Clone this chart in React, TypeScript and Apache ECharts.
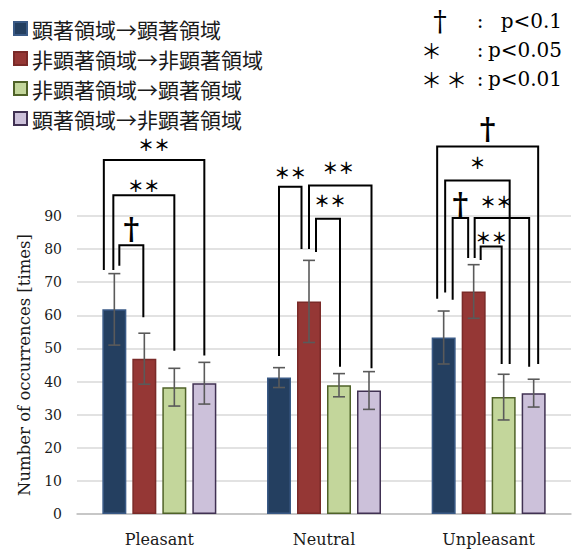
import React, { useEffect, useRef } from "react";
import * as echarts from "echarts";

const categories = ["Pleasant", "Neutral", "Unpleasant"];
const seriesNames = [
  "顕著領域→顕著領域",
  "非顕著領域→非顕著領域",
  "非顕著領域→顕著領域",
  "顕著領域→非顕著領域",
];
const salientToSalient = [61.8, 41.2, 53.3];
const nonToNon = [46.9, 64.2, 67.2];
const nonToSalient = [38.3, 38.9, 35.3];
const salientToNon = [39.5, 37.3, 36.5];
const errSalientToSalient = [10.8, 3.0, 8.0];
const errNonToNon = [7.7, 12.4, 8.1];
const errNonToSalient = [5.7, 3.5, 6.9];
const errSalientToNon = [6.3, 5.7, 4.2];

const yMin = 0;
const yMax = 90;
const yInterval = 10;

// significance brackets: [category, leftSeries, leftBottom, rightSeries, rightBottom, top, labelCenter]
const brackets = [
  [0, 0, 75.0, 1, 59.4, 81.2, 86.3],
  [0, 0, 73.7, 2, 49.3, 96.3, 99.5],
  [0, 0, 73.7, 3, 47.9, 106.9, 111.8],
  [1, 0, 47.7, 1, 80.0, 98.8, 103.4],
  [1, 1, 80.0, 3, 44.0, 99.2, 104.7],
  [1, 1, 79.1, 2, 44.5, 89.2, 94.9],
  [2, 0, 65.0, 3, 45.3, 111.0, 116.5],
  [2, 0, 66.9, 2, 45.3, 100.7, 106.4],
  [2, 0, 64.7, 1, 77.3, 89.4, 93.7],
  [2, 1, 77.3, 3, 44.5, 89.4, 94.4],
  [2, 1, 76.7, 2, 45.3, 80.8, 83.6],
];
const bracketLabels = ["†", "＊＊", "＊＊", "＊＊", "＊＊", "＊＊", "†", "＊", "†", "＊＊", "＊＊"];

// layout only: horizontal leg offsets (px) from bar centres, label x shift
const bracketLegOffsets = [
  [5, -1], [-1, 0], [-10.5, 0],
  [0, -7.5], [0, 2.5], [7, 1],
  [-6.5, 4.5], [1.5, 6], [9, -5.5], [1, -4.5], [7, -2],
];
const bracketLabelShift = [0, 0, 0, 0, -2, 2, 0, 0, 0, -6, 0];

// significance key: symbols (one text per glyph), separator, threshold
const sigSymbols = [["†"], ["＊"], ["＊", "＊"]];
const sigSeparator = ":";
const sigThresholds = ["p<0.1", "p<0.05", "p<0.01"];

const fills = ["#243f60", "#953735", "#c3d69b", "#ccc1da"];
const borders = ["#3a5a86", "#7a2a28", "#4f6228", "#403152"];

const BAR_W = 24;
const PITCH = 30;
const SERIF = "'DejaVu Serif', 'Liberation Serif', serif";
const CJK = "'Noto Sans CJK JP', sans-serif";

export default function App() {
  const ref = useRef<HTMLDivElement>(null);
  useEffect(() => {
    if (!ref.current) return;
    const chart = echarts.init(ref.current, undefined, { renderer: "svg" });
    const values = [salientToSalient, nonToNon, nonToSalient, salientToNon];
    const errs = [errSalientToSalient, errNonToNon, errNonToSalient, errSalientToNon];

    const errData: number[][] = [];
    values.forEach((arr, s) =>
      arr.forEach((v, c) => errData.push([c, s, v - errs[s][c], v + errs[s][c]]))
    );

    const barSeries = values.map((arr, s) => ({
      type: "bar",
      name: seriesNames[s],
      data: arr,
      barWidth: BAR_W,
      barGap: ((PITCH - BAR_W) / BAR_W) * 100 + "%",
      itemStyle: { color: fills[s], borderColor: borders[s], borderWidth: 1.5 },
      z: 2,
    }));

    const xOf = (api: any, c: number, s: number) =>
      api.coord([c, 0])[0] + (s - 1.5) * PITCH;

    const keyGraphics: any[] = [];
    sigThresholds.forEach((th, i) => {
      const y = 21 + i * 29;
      sigSymbols[i].forEach((sym, k) => {
        const isDagger = sym === "†";
        keyGraphics.push({
          type: "text",
          x: isDagger ? 440 : 431.5 + k * 25,
          y,
          style: {
            text: sym,
            fontFamily: isDagger ? SERIF : CJK,
            fontSize: isDagger ? 27 : 21,
            lineHeight: 20,
            fill: "#000",
            align: "center",
            verticalAlign: "middle",
          },
        });
      });
      keyGraphics.push({
        type: "text",
        x: 480,
        y,
        style: { text: sigSeparator, fontFamily: SERIF, fontSize: 20, lineHeight: 20, fill: "#000", align: "center", verticalAlign: "middle" },
      });
      keyGraphics.push({
        type: "text",
        x: 562,
        y,
        style: { text: th, fontFamily: SERIF, fontSize: 20, lineHeight: 20, fill: "#000", align: "right", verticalAlign: "middle" },
      });
    });

    const option: any = {
      animation: false,
      grid: { left: 77, right: 3, top: 216, bottom: 36 },
      legend: {
        data: seriesNames,
        orient: "vertical",
        left: 13,
        top: 18,
        padding: 0,
        itemWidth: 13,
        itemHeight: 13,
        itemGap: 9,
        icon: "rect",
        textStyle: { fontFamily: CJK, fontSize: 21, lineHeight: 21, color: "#1a1a1a", padding: [0, 0, 0, 0] },
      },
      xAxis: {
        type: "category",
        data: categories,
        axisTick: { show: false },
        axisLine: { lineStyle: { color: "#bfbfbf", width: 1.5 } },
        axisLabel: { fontFamily: SERIF, fontSize: 16, color: "#1a1a1a", margin: 17 },
      },
      yAxis: {
        type: "value",
        min: yMin,
        max: yMax,
        interval: yInterval,
        axisLine: { show: false },
        axisTick: { show: false },
        splitLine: { lineStyle: { color: "#d9d9d9", width: 1.5 } },
        axisLabel: { fontFamily: SERIF, fontSize: 14, color: "#1a1a1a", margin: 15 },
        name: "Number of occurrences [times]",
        nameLocation: "middle",
        nameGap: 43,
        nameTextStyle: { fontFamily: SERIF, fontSize: 16.5, color: "#1a1a1a" },
      },
      graphic: keyGraphics,
      series: [
        ...barSeries,
        {
          type: "custom",
          data: errData,
          encode: { x: 0, y: 3 },
          clip: false,
          z: 3,
          silent: true,
          renderItem: (params: any, api: any) => {
            const c = api.value(0);
            const s = api.value(1);
            const x = xOf(api, c, s);
            const yl = api.coord([c, api.value(2)])[1];
            const yh = api.coord([c, api.value(3)])[1];
            const st = { stroke: "#5a5a5a", lineWidth: 1.6 };
            return {
              type: "group",
              children: [
                { type: "line", shape: { x1: x, y1: yl, x2: x, y2: yh }, style: st },
                { type: "line", shape: { x1: x - 6, y1: yl, x2: x + 6, y2: yl }, style: st },
                { type: "line", shape: { x1: x - 6, y1: yh, x2: x + 6, y2: yh }, style: st },
              ],
            };
          },
        },
        {
          type: "custom",
          data: brackets,
          encode: { x: 0, y: 5 },
          clip: false,
          z: 4,
          silent: true,
          renderItem: (params: any, api: any) => {
            const i = params.dataIndex;
            const c = api.value(0);
            const off = bracketLegOffsets[i];
            const xl = xOf(api, c, api.value(1)) + off[0];
            const xr = xOf(api, c, api.value(3)) + off[1];
            const yl = api.coord([c, api.value(2)])[1];
            const yr = api.coord([c, api.value(4)])[1];
            const yt = api.coord([c, api.value(5)])[1];
            const ylab = api.coord([c, api.value(6)])[1];
            const lab = bracketLabels[i];
            const isDagger = lab === "†";
            return {
              type: "group",
              children: [
                {
                  type: "polyline",
                  shape: { points: [[xl, yl], [xl, yt], [xr, yt], [xr, yr]] },
                  style: { stroke: "#000", lineWidth: 2, fill: "none" },
                },
                {
                  type: "text",
                  x: (xl + xr) / 2 + bracketLabelShift[i],
                  y: ylab,
                  style: {
                    text: lab,
                    fontFamily: isDagger ? SERIF : CJK,
                    fontSize: isDagger ? 30 : 16,
                    lineHeight: 16,
                    fontWeight: "bold",
                    fill: "#000",
                    align: "center",
                    verticalAlign: "middle",
                  },
                },
              ],
            };
          },
        },
      ],
    };
    chart.setOption(option);
    return () => chart.dispose();
  }, []);
  return (
    <div
      ref={ref}
      style={{ position: "absolute", left: 0, top: 0, width: 574, height: 550, background: "#fff" }}
    />
  );
}
